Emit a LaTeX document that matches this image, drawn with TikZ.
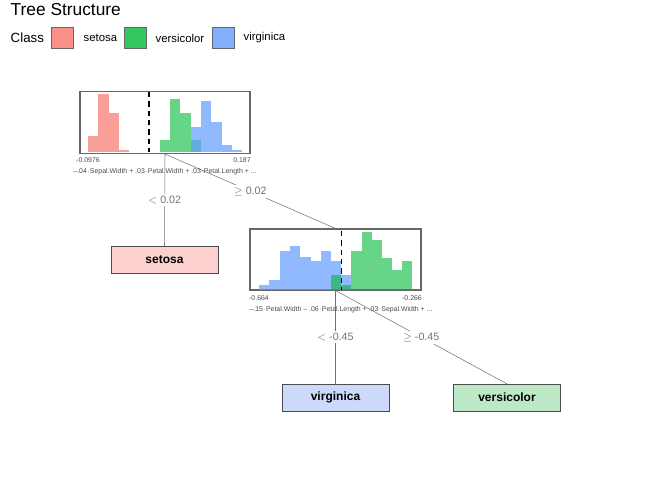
\documentclass[tikz,border=0pt]{standalone}
\usepackage{fontspec}
\setmainfont{Liberation Sans}
\usetikzlibrary{positioning}
\definecolor{setred}{HTML}{F8766D}
\definecolor{versgreen}{HTML}{00BA38}
\definecolor{virgblue}{HTML}{619CFF}
\definecolor{setfill}{HTML}{FDD0D0}
\definecolor{versfill}{HTML}{BEE9C6}
\definecolor{virgfill}{HTML}{CDD9FB}
\begin{document}
\begin{tikzpicture}[x=0.75pt,y=-0.75pt]
\tikzstyle{histbox}=[rectangle, draw=black!60, line width=0.8pt, minimum width=127.5pt, minimum height=46.5pt, inner sep=0pt]
\tikzstyle{leaf}=[rectangle, draw=black!70, minimum width=80pt, minimum height=20pt, inner sep=0pt, font=\fontsize{9}{10}\selectfont\bfseries]
\tikzstyle{split}=[fill=white, inner sep=1.5pt, font=\fontsize{8}{9}\selectfont]
\tikzstyle{tick}=[font=\fontsize{5.2}{6}\selectfont, text=black!70, inner sep=0pt]
\tikzstyle{swatch}=[rectangle, draw=black!60, minimum width=16.5pt, minimum height=15.5pt, inner sep=0pt]
\useasboundingbox[fill=white] (0,0) rectangle (672,480);
% legend
\node[anchor=west, font=\fontsize{13}{15}\selectfont] (title) at (6,10) {Tree Structure};
\node[anchor=west, font=\fontsize{10}{12}\selectfont] (cls) at (6,38) {Class};
\node[swatch, fill=setred, fill opacity=0.8, draw opacity=1] (s1) at (62,38) {};
\node[anchor=west, font=\fontsize{8.5}{10}\selectfont] at (79,38) {setosa};
\node[swatch, fill=versgreen, fill opacity=0.8] (s2) at (135,38) {};
\node[anchor=west, font=\fontsize{8.5}{10}\selectfont] at (151,38) {versicolor};
\node[swatch, fill=virgblue, fill opacity=0.8] (s3) at (223,38) {};
\node[anchor=west, font=\fontsize{8.5}{10}\selectfont] at (239,38) {virginica};
% tree nodes
\node[histbox] (n1) at (165,122.5) {};
\node[histbox, minimum width=128.25pt, minimum height=45.75pt] (n2) at (335.5,259.5) {};
\node[leaf, fill=setfill] (setosa) at (164.5,259.5) {setosa};
\node[leaf, fill=virgfill] (virginica) at (335.5,397.5) {virginica};
\node[leaf, fill=versfill] (versicolor) at (507,397.5) {versicolor};
% edges
\draw[black!55] (n1.south) -- node[split] {$<$ 0.02} (setosa.north);
\draw[black!55] (n1.south) -- node[split] {$\geq$ 0.02} (n2.north);
\draw[black!55] (n2.south) -- node[split] {$<$ -0.45} (virginica.north);
\draw[black!55] (n2.south) -- node[split] {$\geq$ -0.45} (versicolor.north);
% histogram 1
\foreach \a/\b/\t in {87.7/98.3/136,98.3/109/94,109/119/113,119/129/150}
  \fill[setred, fill opacity=0.7] (\a,151.7) rectangle (\b,\t);
\foreach \a/\b/\t in {160/170/140,170/180/99,180/190.7/113,190.7/201/140}
  \fill[versgreen, fill opacity=0.6] (\a,151.7) rectangle (\b,\t);
\foreach \a/\b/\t in {190.7/201/127,201/211/100.7,211/221.7/121.7,221.7/231.7/145,231.7/241.7/150}
  \fill[virgblue, fill opacity=0.7] (\a,151.7) rectangle (\b,\t);
\draw[dashed, line width=0.9pt, dash pattern=on 4pt off 3pt] (149,92) -- (149,152);
\node[tick] at (88,160) {-0.0976};
\node[tick] at (242,160) {0.187};
\node[tick] at (165,172) {--.04$\cdot$Sepal.Width + .03$\cdot$Petal.Width + .03$\cdot$Petal.Length + ...};
% histogram 2
\foreach \a/\b/\t in {259.3/269.3/285,269.3/280/280,280/290/251,290/300/246,300/310.7/256.7,310.7/321/261,321/331/251,331/341/261,341/351/275}
  \fill[virgblue, fill opacity=0.7] (\a,290) rectangle (\b,\t);
\foreach \a/\b/\t in {331/341/275,341/351/285,351/361.7/251,361.7/371.7/231.7,371.7/381.7/240,381.7/391.7/258,391.7/402.3/270,402.3/412.3/261}
  \fill[versgreen, fill opacity=0.6] (\a,290) rectangle (\b,\t);
\draw[dashed, line width=0.9pt, dash pattern=on 4pt off 3pt] (341.7,231) -- (341.7,290);
\node[tick] at (259,298) {-0.664};
\node[tick] at (412,298) {-0.266};
\node[tick] at (341,310) {--.15$\cdot$Petal.Width -- .06$\cdot$Petal.Length + .03$\cdot$Sepal.Width + ...};
\end{tikzpicture}
\end{document}
